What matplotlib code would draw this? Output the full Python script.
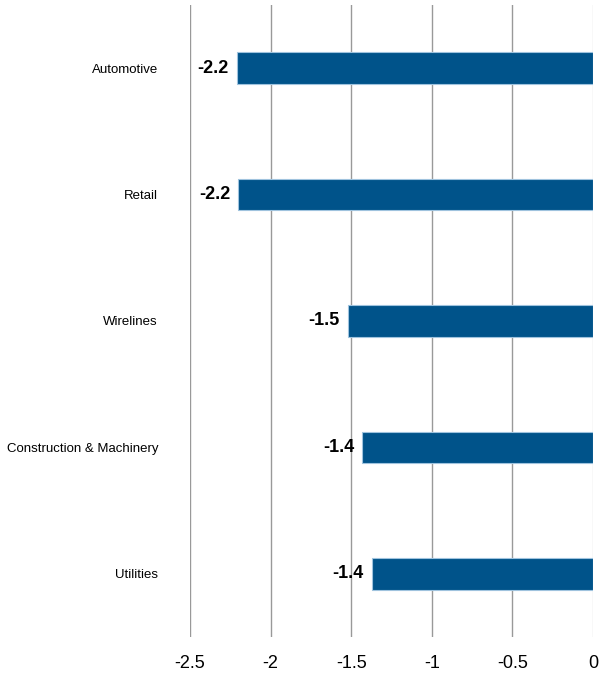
import matplotlib.pyplot as plt

font = ['Liberation Sans', 'DejaVu Sans']

categories = ['Automotive', 'Retail', 'Wirelines', 'Construction & Machinery', 'Utilities']
values = [-2.21, -2.20, -1.52, -1.43, -1.37]
labels = ['-2.2', '-2.2', '-1.5', '-1.4', '-1.4']
ticks = [-2.5, -2, -1.5, -1, -0.5, 0]
tick_labels = ['-2.5', '-2', '-1.5', '-1', '-0.5', '0']

fig = plt.figure(figsize=(5.99, 6.80), dpi=100)
ax = fig.add_axes([190/599, 1-637/680, 403/599, 632/680])

y = list(range(len(categories)))
ax.barh(y, values, height=0.25, color='#00538A', edgecolor='#9fc3de', linewidth=0.8, zorder=3)

# value labels just left of each bar end
for yi, v, lab in zip(y, values, labels):
    ax.annotate(lab, (v, yi), xytext=(-6, 0), textcoords='offset points',
                ha='right', va='center', fontsize=13, fontweight='bold',
                family=font, zorder=4)

ax.set_xlim(-2.5, 0)
ax.set_ylim(len(categories) - 0.5, -0.5)
ax.set_xticks(ticks)
ax.set_xticklabels(tick_labels, family=font, fontsize=13)
ax.set_yticks(y)
ax.set_yticklabels(categories, family=font, fontsize=9.5)
ax.tick_params(axis='x', length=0, pad=13)
ax.tick_params(axis='y', length=0, pad=23)

for t in ticks:
    ax.axvline(t, color='#dddddd' if t == 0 else '#999999', linewidth=1, zorder=1)

for s in ax.spines.values():
    s.set_visible(False)

fig.savefig('out.png', dpi=100)
